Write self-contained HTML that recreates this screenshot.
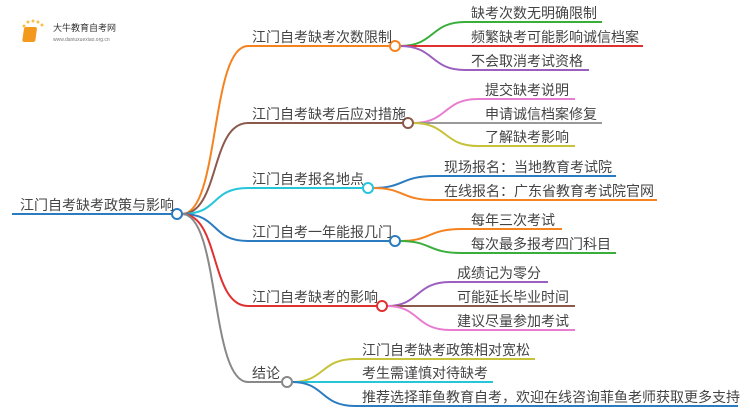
<!DOCTYPE html>
<html><head><meta charset="utf-8">
<style>
html,body{margin:0;padding:0;background:#fff;}
svg{display:block;}
text{font-family:"Liberation Sans","Noto Sans CJK SC",sans-serif;fill:#444;}
</style></head>
<body>
<svg width="750" height="410" viewBox="0 0 750 410" xmlns="http://www.w3.org/2000/svg">
<g fill="none" stroke-width="2">
  <!-- root -->
  <line x1="12" y1="214" x2="172" y2="214" stroke="#2a7bc0"/>
  <!-- main branches -->
  <path d="M182,214 C220,214 210,46 248,46 L390,46" stroke="#f5821f"/>
  <path d="M182,214 C220,214 210,123 248,123 L403,123" stroke="#8b5a4b"/>
  <path d="M182,214 C220,214 210,188 248,188 L363,188" stroke="#26c6da"/>
  <path d="M182,214 C220,214 210,241 248,241 L390,241" stroke="#2a7bc0"/>
  <path d="M182,214 C220,214 210,306 248,306 L377,306" stroke="#e03030"/>
  <path d="M182,214 C220,214 210,382 248,382 L282,382" stroke="#888888"/>
  <!-- branch 1 children -->
  <path d="M400,46 C435,46 430,22 465,22 L602,22" stroke="#3aae3a"/>
  <path d="M400,46 L643,46" stroke="#e03030"/>
  <path d="M400,46 C435,46 430,70 465,70 L589,70" stroke="#9b5fc0"/>
  <!-- branch 2 -->
  <path d="M413,123 C448,123 443,99 478,99 L575,99" stroke="#e87dd0"/>
  <path d="M413,123 L602,123" stroke="#999999"/>
  <path d="M413,123 C448,123 443,146 478,146 L575,146" stroke="#c6c23a"/>
  <!-- branch 3 -->
  <path d="M373,188 C405,188 400,176 435,176 L616,176" stroke="#2a7bc0"/>
  <path d="M373,188 C405,188 400,200 435,200 L657,200" stroke="#f5821f"/>
  <!-- branch 4 -->
  <path d="M400,241 C432,241 427,229 462,229 L562,229" stroke="#f5821f"/>
  <path d="M400,241 C432,241 427,253 462,253 L616,253" stroke="#3aae3a"/>
  <!-- branch 5 -->
  <path d="M387,306 C420,306 415,282 450,282 L548,282" stroke="#9b5fc0"/>
  <path d="M387,306 L575,306" stroke="#8b5a4b"/>
  <path d="M387,306 C420,306 415,330 450,330 L575,330" stroke="#e87dd0"/>
  <!-- branch 6 -->
  <path d="M292,382 C325,382 320,359 355,359 L535,359" stroke="#c6c23a"/>
  <path d="M292,382 L493,382" stroke="#26c6da"/>
  <path d="M292,382 C325,382 320,406 355,406 L738,406" stroke="#2a7bc0"/>
  <!-- circles -->
  <circle cx="177" cy="214" r="5" fill="#fff" stroke="#2a7bc0"/>
  <circle cx="395" cy="46" r="5" fill="#fff" stroke="#f5821f"/>
  <circle cx="408" cy="123" r="5" fill="#fff" stroke="#8b5a4b"/>
  <circle cx="368" cy="188" r="5" fill="#fff" stroke="#26c6da"/>
  <circle cx="395" cy="241" r="5" fill="#fff" stroke="#2a7bc0"/>
  <circle cx="382" cy="306" r="5" fill="#fff" stroke="#e03030"/>
  <circle cx="287" cy="382" r="5" fill="#fff" stroke="#888888"/>
</g>
<!-- logo -->
<g>
  <circle cx="24" cy="26" r="1.5" fill="#f7c04a"/>
  <circle cx="28" cy="22" r="1.5" fill="#f7c04a"/>
  <circle cx="33" cy="21" r="1.5" fill="#f7c04a"/>
  <circle cx="38" cy="22" r="1.5" fill="#f7c04a"/>
  <circle cx="42" cy="25" r="1.5" fill="#f7c04a"/>
  <rect x="28" y="27" width="13" height="15" rx="2" fill="#f39a1e" transform="skewX(-8)"/>
  <text x="53" y="31" font-size="9" style="fill:#333">大牛教育自考网</text>
  <text x="53" y="41" font-size="5" style="fill:#777">www.daniuxuexiao.org.cn</text>
</g>
<g font-size="14">
  <text x="20" y="210">江门自考缺考政策与影响</text>
  <text x="252" y="42">江门自考缺考次数限制</text>
  <text x="252" y="119">江门自考缺考后应对措施</text>
  <text x="252" y="184">江门自考报名地点</text>
  <text x="252" y="237">江门自考一年能报几门</text>
  <text x="252" y="302">江门自考缺考的影响</text>
  <text x="252" y="378">结论</text>

  <text x="471" y="18">缺考次数无明确限制</text>
  <text x="471" y="42">频繁缺考可能影响诚信档案</text>
  <text x="471" y="66">不会取消考试资格</text>

  <text x="485" y="95">提交缺考说明</text>
  <text x="485" y="119">申请诚信档案修复</text>
  <text x="485" y="142">了解缺考影响</text>

  <text x="444" y="172">现场报名：当地教育考试院</text>
  <text x="444" y="196">在线报名：广东省教育考试院官网</text>

  <text x="471" y="225">每年三次考试</text>
  <text x="471" y="249">每次最多报考四门科目</text>

  <text x="457" y="278">成绩记为零分</text>
  <text x="457" y="302">可能延长毕业时间</text>
  <text x="457" y="326">建议尽量参加考试</text>

  <text x="362" y="355">江门自考缺考政策相对宽松</text>
  <text x="362" y="378">考生需谨慎对待缺考</text>
  <text x="362" y="402">推荐选择菲鱼教育自考，欢迎在线咨询菲鱼老师获取更多支持</text>
</g>
</svg>
</body></html>
